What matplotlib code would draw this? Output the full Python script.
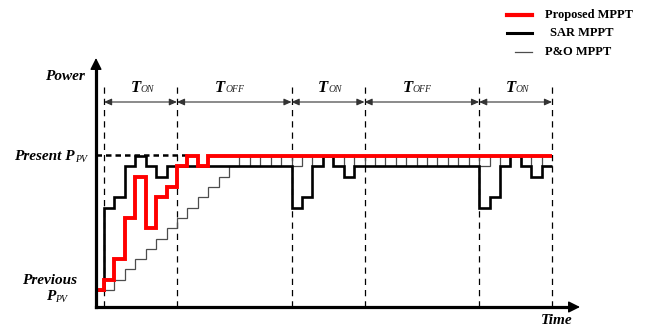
"""
Proposed vs SAR vs P&O MPPT power tracking, step diagram.
"""
import numpy as np
import matplotlib
matplotlib.use("Agg")
import matplotlib.pyplot as plt
from matplotlib.lines import Line2D

plt.rcParams.update({
    "font.family": "Liberation Serif",
})

# Data (time in MPPT steps, power in staircase units: 0 = previous, 13 = present)
red_edges = [-0.77, 0, 1, 2, 3, 4, 5, 6, 7, 8, 9, 10, 43]
red_levels = [0, 1, 3, 7, 11, 6, 9, 10, 12, 13, 12, 13]

step_edges = [-0.77] + list(range(0, 44))
sar_levels = [0,
              8, 9, 12, 13, 12, 11, 12, 12, 12, 12, 12, 12, 12, 12, 12, 12, 12, 12,
              8, 9, 12, 13, 12, 11, 12, 12, 12, 12, 12, 12, 12, 12, 12, 12, 12, 12,
              8, 9, 12, 13, 12, 11, 12]
po_levels = [0,
             0, 1, 2, 3, 4, 5, 6, 7, 8, 9, 10, 11, 12, 13, 12, 13, 12, 13,
             12, 13, 12, 13, 12, 13, 12, 13, 12, 13, 12, 13, 12, 13, 12, 13, 12, 13,
             12, 13, 12, 13, 12, 13, 12]

period_bounds = [0, 7, 18, 25, 36, 43]
period_labels = ["ON", "OFF", "ON", "OFF", "ON"]
present_level = 13
previous_level = 0

W, H = 646, 329
fig = plt.figure(figsize=(W / 100, H / 100), dpi=100)
ax = fig.add_axes([0, 0, 1, 1])

# map: px = 104 + 10.42 * t ; py = 290 - 10.3 * level
sx, sy = 10.42, 10.3
ax.set_xlim(-104 / sx, (W - 104) / sx)
ax.set_ylim((290 - H) / sy, 290 / sy)
ax.axis("off")


def lv(py):
    return (290 - py) / sy


def tt(px):
    return (px - 104) / sx


x_axis, y_base, y_top = tt(96), lv(307), lv(58)

# axes arrows
ax.plot([x_axis, x_axis], [y_base, y_top - 0.8], color="black", lw=2.3,
        solid_capstyle="projecting", zorder=6)
ax.plot([x_axis, tt(572)], [y_base, y_base], color="black", lw=2.3,
        solid_capstyle="projecting", zorder=6)
ax.annotate("", xy=(x_axis, y_top), xytext=(x_axis, y_top - 1.2),
            arrowprops=dict(arrowstyle="-|>,head_width=0.35,head_length=0.7",
                            color="black", lw=1, shrinkA=0, shrinkB=0), zorder=6)
ax.annotate("", xy=(tt(580), y_base), xytext=(tt(570), y_base),
            arrowprops=dict(arrowstyle="-|>,head_width=0.35,head_length=0.7",
                            color="black", lw=1, shrinkA=0, shrinkB=0), zorder=6)

# period dividers
for b in period_bounds:
    ax.plot([b, b], [y_base, lv(83)], color="black", lw=0.9,
            dashes=(5, 4), zorder=1)

y_arrow = lv(102)
for i, lab in enumerate(period_labels):
    a, b = period_bounds[i], period_bounds[i + 1]
    ax.annotate("", xy=(b, y_arrow), xytext=(a, y_arrow),
                arrowprops=dict(arrowstyle="<|-|>,head_width=0.2,head_length=0.45",
                                color="#333333", lw=0.8, shrinkA=0, shrinkB=0))
    cx = (a + b) / 2 + (0 if lab == "ON" else -9 / sx)
    ax.text(cx, lv(88), "T", fontsize=12, fontweight="bold", fontstyle="italic",
            ha="right", va="center")
    ax.text(cx, lv(90), lab, fontsize=7, fontstyle="italic",
            ha="left", va="center", color="#222222")

# present Ppv reference
ax.plot([x_axis, 8], [present_level + 0.1, present_level + 0.1], color="black",
        lw=1.8, dashes=(2.2, 1.6), zorder=2)

# traces
ax.stairs(po_levels, step_edges, baseline=None, color="#4d4d4d", lw=0.9, zorder=3)
ax.stairs(sar_levels, step_edges, baseline=None, color="black", lw=1.9, zorder=4)
ax.stairs(red_levels, red_edges, baseline=None, color="#ff0000", lw=2.8, zorder=5)

# labels
bi = dict(fontweight="bold", fontstyle="italic")
ax.text(tt(65), lv(76), "Power", fontsize=11, ha="center", va="center", **bi)
ax.text(tt(557), lv(321), "Time", fontsize=11, ha="center", va="center", **bi)
ax.text(tt(75), present_level, "Present P", fontsize=11, ha="right",
        va="center", **bi)
ax.text(tt(75), present_level - 0.3, "PV", fontsize=7, fontstyle="italic",
        ha="left", va="center")
ax.text(tt(50), lv(281), "Previous", fontsize=11, ha="center", va="center", **bi)
ax.text(tt(55), lv(297), "P", fontsize=11, ha="right", va="center", **bi)
ax.text(tt(55), lv(299), "PV", fontsize=7, fontstyle="italic", ha="left",
        va="center")

# legend
legend_items = [("Proposed MPPT", "#ff0000", 3.0, 507, 15, 545),
                ("SAR MPPT", "black", 2.2, 507, 33, 550),
                ("P&O MPPT", "#4d4d4d", 0.9, 515, 52, 545)]
for name, col, lw, x0, py, tx in legend_items:
    fig.add_artist(Line2D([x0 / W, 532 / W], [1 - py / H, 1 - py / H],
                          color=col, lw=lw))
    fig.text(tx / W, 1 - py / H, name, fontsize=9, fontweight="bold",
             ha="left", va="center")

fig.savefig("out.png", dpi=100)
plt.close(fig)
